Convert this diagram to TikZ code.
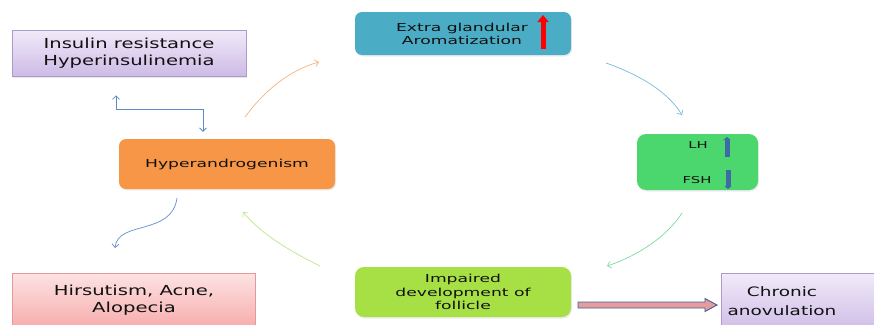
\documentclass[tikz,border=0pt]{standalone}
\usepackage{fontspec}
\setmainfont{DejaVu Sans}
\newfontfamily\bigf[FakeStretch=1.42]{DejaVu Sans}
\newfontfamily\midf[FakeStretch=1.56]{DejaVu Sans}
\usetikzlibrary{arrows.meta,calc,shadows}
\definecolor{lavtop}{HTML}{F1EAF9}
\definecolor{lavbot}{HTML}{CDBBE6}
\definecolor{lavline}{HTML}{A99CC6}
\definecolor{pinktop}{HTML}{FDE3E3}
\definecolor{pinkbot}{HTML}{F7A9A9}
\definecolor{pinkline}{HTML}{E49A9A}
\definecolor{tealc}{HTML}{4BACC6}
\definecolor{greenc}{HTML}{4CD66E}
\definecolor{orangec}{HTML}{F79646}
\definecolor{limec}{HTML}{A6E045}
\definecolor{darkblue}{HTML}{3E6AA6}
\definecolor{txt}{HTML}{111111}
\definecolor{corange}{HTML}{F6B583}
\definecolor{cblue}{HTML}{7DBFD8}
\definecolor{cgreen}{HTML}{7FDDA2}
\definecolor{clime}{HTML}{BEE88E}
\definecolor{cwave}{HTML}{6C94C8}
\definecolor{celbow}{HTML}{5C8CC6}
\definecolor{arrfill}{HTML}{E59C9C}
\definecolor{arrline}{HTML}{445F92}
\tikzset{
  x=1pt, y=-1pt,
  sqbox/.style={draw=lavline, line width=0.6pt, top color=lavtop, bottom color=lavbot,
     align=center, text=txt, inner sep=0pt, font=\bigf\fontsize{13.8}{17.5}\selectfont,
     drop shadow={opacity=0.18, shadow xshift=1pt, shadow yshift=-1.5pt}},
  pinkbox/.style={sqbox, draw=pinkline, top color=pinktop, bottom color=pinkbot},
  rbox/.style={rounded corners=7pt, align=center, text=txt, inner sep=0pt,
     font=\midf\fontsize{11}{13.5}\selectfont,
     drop shadow={opacity=0.15, shadow xshift=1pt, shadow yshift=-1.5pt}},
  conn/.style={line width=0.75pt, -{Straight Barb[length=3.5pt,width=7pt]}},
}
\begin{document}
\begin{tikzpicture}
\useasboundingbox (0,0) rectangle (874,324);
% boxes
\node[sqbox, minimum width=234pt, minimum height=46pt] (ins) at (129,53)
  {Insulin resistance\\Hyperinsulinemia};
\node[rbox, fill=tealc, minimum width=216pt, minimum height=43pt] (ext) at (463,33.5) {};
\node[align=center, text=txt, font=\midf\fontsize{11}{13.5}\selectfont] (extt) at (462,34)
  {Extra glandular\\Aromatization};
\node[rbox, fill=greenc, minimum width=121pt, minimum height=56pt, rounded corners=9pt] (lh) at (697.5,162) {};
\node[text=txt, font=\midf\fontsize{9.5}{11}\selectfont] (lht) at (698,145) {LH};
\node[text=txt, font=\midf\fontsize{9.5}{11}\selectfont] (fsht) at (697,180) {FSH};
\node[rbox, fill=orangec, minimum width=216pt, minimum height=50pt] (hyp) at (227,164) {Hyperandrogenism};
\node[pinkbox, minimum width=243pt, minimum height=57pt, anchor=north west] (hir) at (12,273)
  {};
\node[align=center, text=txt, font=\bigf\fontsize{13.8}{17.5}\selectfont] (hirt) at (134,300)
  {Hirsutism, Acne,\\Alopecia};
\node[rbox, fill=limec, minimum width=216pt, minimum height=50pt, rounded corners=9pt] (imp) at (463,292)
  {Impaired\\development of\\follicle};
\node[sqbox, minimum width=160pt, minimum height=60pt, anchor=north west] (chr) at (721,273) {};
\node[align=center, text=txt, font=\bigf\fontsize{13}{18.5}\selectfont] (chrt) at (782,301)
  {Chronic\\anovulation};
% indicator arrows
\coordinate (ra1) at (543,49);
\coordinate (ra2) at (543,15);
\draw[red, line width=5pt, -{Triangle[length=7pt,width=11pt]}] (ra1) -- (ra2);
\coordinate (lu1) at (727,157);
\coordinate (lu2) at (727,137);
\draw[darkblue, line width=5pt, -{Triangle[length=3pt,width=7pt]}] (lu1) -- (lu2);
\coordinate (ld1) at (728,170);
\coordinate (ld2) at (728,189);
\draw[darkblue, line width=5pt, -{Triangle[length=3pt,width=7pt]}] (ld1) -- (ld2);
% cycle connectors
\coordinate (o1) at (245,117); \coordinate (o2) at (319,62);
\draw[conn, corange] (o1) .. controls (265,90) and (290,70) .. (o2);
\coordinate (b1) at (606,63); \coordinate (b2) at (682,115);
\draw[conn, cblue] (b1) .. controls (640,75) and (668,92) .. (b2);
\coordinate (g1) at (682,213); \coordinate (g2) at (607,266);
\draw[conn, cgreen] (g1) .. controls (668,235) and (640,255) .. (g2);
\coordinate (y1) at (320,266); \coordinate (y2) at (243,212);
\draw[conn, clime] (y1) .. controls (292,252) and (262,235) .. (y2);
\coordinate (w1) at (177,198); \coordinate (w2) at (115,248);
\draw[conn, cwave] (w1) .. controls (172,236) and (118,220) .. (w2);
% elbow double arrow
\coordinate (e1) at ($(ins.south)+(-13,19)$);
\coordinate (e2) at ($(hyp.north)+(-24,-7)$);
\draw[celbow, line width=0.75pt, {Straight Barb[length=3.5pt,width=7pt]}-{Straight Barb[length=3.5pt,width=7pt]}]
  (e1) -- ++(0,14) -| (e2);
% thick arrow
\coordinate (ta) at (578,305);
\coordinate (tb) at (717,305);
\draw[arrline, fill=arrfill, line width=0.9pt, line join=miter]
  ($(ta)+(0,-3)$) -- ($(tb)+(-12,-3)$) -- ($(tb)+(-12,-6.5)$) -- (tb) -- ($(tb)+(-12,6.5)$)
  -- ($(tb)+(-12,3)$) -- ($(ta)+(0,3)$) -- cycle;
\end{tikzpicture}
\end{document}
